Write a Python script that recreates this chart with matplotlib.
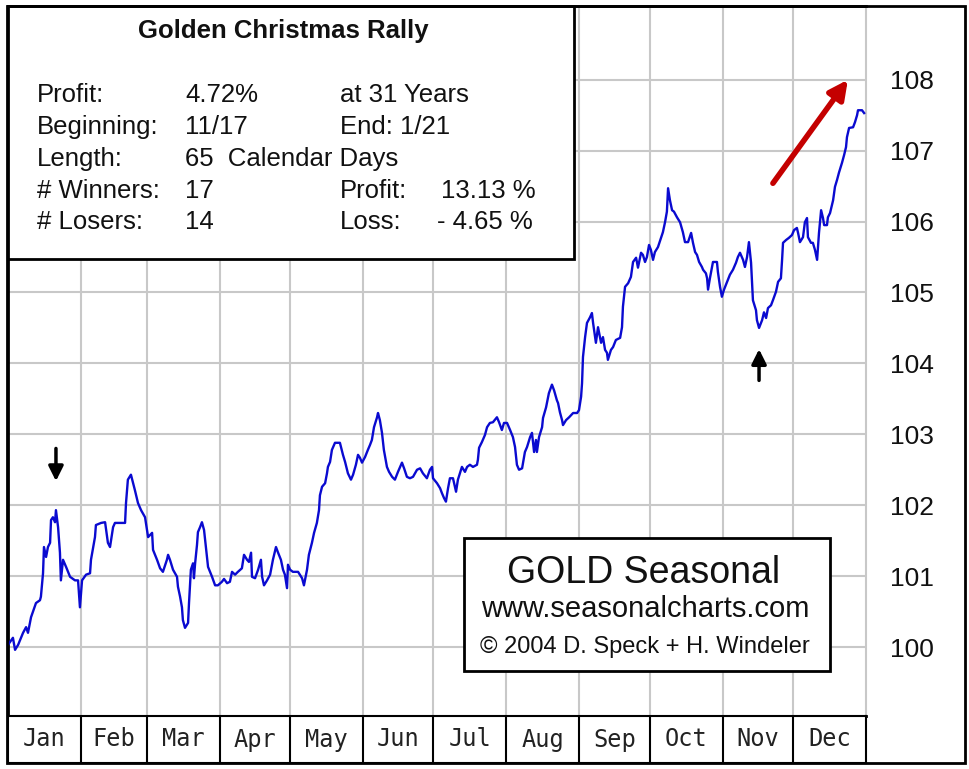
import numpy as np
import matplotlib.pyplot as plt
from matplotlib.patches import Rectangle

W, H = 970, 769

months = ['Jan', 'Feb', 'Mar', 'Apr', 'May', 'Jun', 'Jul', 'Aug', 'Sep', 'Oct', 'Nov', 'Dec']
month_days = [31, 28, 31, 30, 31, 30, 31, 31, 30, 31, 30, 31]
yticks = [100, 101, 102, 103, 104, 105, 106, 107, 108]

# seasonal pattern, day of year vs index
day = [0, 2.1, 3.0, 4.3, 6.4, 7.7, 8.5, 9.8, 11.9, 13.6, 14.0, 14.9, 15.3, 16.2, 17.0, 17.9, 18.3, 19.1,
       20.0, 20.4, 21.3, 22.1, 22.5, 23.4, 24.7, 26.4, 28.5, 29.8, 30.6, 31.5, 33.2, 34.9, 35.3, 37.0, 37.4,
       39.6, 41.3, 42.5, 43.4, 44.7, 45.5, 49.8, 50.2, 51.0, 52.3, 54.0, 55.3, 56.6, 58.3,
       59.6, 61.3, 61.7, 63.4, 64.7, 65.9, 67.6, 68.1, 68.9, 70.2, 71.9, 72.3, 73.2, 74.0, 74.4, 75.3,
       76.6, 77.0, 77.8, 78.7, 79.1, 79.6, 80.4, 80.8, 81.7, 82.5, 83.4, 84.2, 85.1, 86.8, 88.1, 89.3,
       91.0, 91.9, 93.2, 94.4, 95.3, 96.6, 97.8, 99.5, 100.4, 101.7, 102.5, 103.4, 103.8, 105.1, 106.4,
       107.6, 108.1, 108.9, 110.2, 111.5, 112.7, 114.0, 114.9, 116.1, 117.0, 117.8, 118.7, 119.1, 120.0,
       121.2, 123.4, 125.1, 125.9,
       127.2, 128.0, 129.3, 130.2, 131.4, 132.3, 132.7, 133.6, 134.9, 135.7, 136.1, 137.0, 137.8, 139.1,
       141.2, 142.5, 143.4, 144.6, 145.9, 146.8, 148.0, 148.9, 149.7, 150.6, 151.9, 153.1, 154.0, 154.8,
       155.7, 157.0, 157.4, 158.2, 159.1, 159.9, 161.2, 162.1, 163.4, 164.6, 165.9, 167.6, 168.5, 169.7,
       171.0, 172.3, 174.0, 175.3, 176.5, 178.2, 179.5, 180.4, 180.8, 182.5, 183.8, 184.6, 185.5,
       186.3, 187.2, 188.0, 189.3, 190.6, 191.4, 193.1, 194.4, 195.3, 196.5, 197.8, 199.5, 199.9, 200.4,
       201.6, 202.9, 203.8, 205.0, 206.3, 208.0, 208.9, 210.1, 211.0, 212.3, 213.6, 214.8, 215.7, 216.5,
       217.4, 218.7, 219.9, 220.8, 222.1, 222.9, 223.8, 224.6, 225.0, 225.9, 227.2, 227.6, 228.9, 230.1,
       231.4, 232.3, 233.5, 234.0, 234.8, 235.7, 236.1, 237.4, 238.7, 240.4, 242.1, 242.9, 243.8, 244.2,
       244.6, 245.5, 246.3, 247.6, 248.4, 248.9, 250.1, 251.0, 252.3, 253.1, 254.0, 254.8, 255.2, 256.5,
       257.4, 258.6, 260.4, 261.2, 261.6, 262.5, 263.8, 265.0, 265.9, 267.2, 268.0, 269.3, 270.1, 271.0,
       271.8, 272.7, 273.5, 274.4, 275.2, 276.5, 277.8, 278.6, 279.5, 280.3, 280.8, 281.6, 282.5, 283.3,
       284.6, 285.9, 287.1, 288.0, 289.3, 290.6, 291.4, 292.3, 293.1, 294.0, 295.2, 295.7, 296.9, 297.4,
       297.8, 298.6, 299.5, 299.9, 301.6, 302.0, 302.9, 303.7, 304.6, 305.9, 307.1, 308.4, 309.7, 310.5,
       311.4, 312.7, 313.5, 314.4, 315.2, 316.1, 316.5, 316.9, 318.2, 318.6, 319.5, 320.8, 321.6, 322.5,
       323.3, 324.6, 325.4, 326.7, 327.6, 328.8, 329.3, 329.7, 331.0, 332.2, 333.5, 334.4, 335.6, 336.1,
       336.9, 338.2, 339.0, 339.9, 340.3, 341.6, 342.4, 343.3, 344.2, 345.0, 345.9, 346.7, 347.2, 348.4,
       348.8, 349.7, 351.0, 351.8, 352.7, 353.5, 354.8, 355.7, 356.5, 356.9, 357.8, 359.5, 360.3, 361.2,
       361.6, 363.3, 364.2]
gold = [100.03, 100.13, 99.96, 100.03, 100.20, 100.28, 100.20, 100.42, 100.62, 100.66, 100.71, 101.04, 101.41,
        101.27, 101.41, 101.47, 101.79, 101.83, 101.76, 101.93, 101.69, 101.33, 100.94, 101.23, 101.13, 100.99,
        100.94, 100.94, 100.56, 100.94, 101.02, 101.04, 101.23, 101.55, 101.72, 101.75, 101.76, 101.47, 101.41,
        101.69, 101.75, 101.75, 102.03, 102.36, 102.43, 102.21, 102.03, 101.93, 101.83,
        101.55, 101.61, 101.37, 101.23, 101.11, 101.06, 101.23, 101.30, 101.23, 101.09, 100.99, 100.85, 100.71,
        100.56, 100.38, 100.27, 100.34, 100.62, 101.09, 101.18, 100.97, 101.18, 101.44, 101.62, 101.69, 101.76,
        101.65, 101.41, 101.13, 100.99, 100.87, 100.87, 100.92, 100.96, 100.90, 100.92, 101.06, 101.02, 101.06,
        101.11, 101.30, 101.23, 101.20, 101.33, 100.99, 100.97, 101.09, 101.23, 100.99, 100.87, 100.94, 101.02,
        101.23, 101.41, 101.33, 101.23, 101.09, 101.02, 100.83, 101.16, 101.09, 101.06, 101.06, 100.97, 100.87,
        101.09, 101.30, 101.47, 101.61, 101.75, 101.93, 102.14, 102.26, 102.31, 102.45, 102.54, 102.61, 102.78,
        102.88, 102.88, 102.71, 102.61, 102.45, 102.36, 102.43, 102.57, 102.71, 102.67, 102.60, 102.68, 102.78,
        102.85, 102.92, 103.10, 103.24, 103.30, 103.20, 103.02, 102.78, 102.54, 102.47, 102.40, 102.36, 102.47,
        102.60, 102.52, 102.40, 102.38, 102.40, 102.50, 102.52, 102.45, 102.38, 102.50, 102.54, 102.38, 102.31,
        102.24, 102.17, 102.10,
        102.05, 102.24, 102.38, 102.38, 102.19, 102.36, 102.54, 102.47, 102.54, 102.57, 102.54, 102.57, 102.64,
        102.81, 102.89, 102.99, 103.10, 103.16, 103.17, 103.24, 103.17, 103.06, 103.16, 103.16, 103.06, 102.96,
        102.82, 102.57, 102.50, 102.52, 102.75, 102.82, 102.96, 103.02, 102.75, 102.92, 102.75, 102.96, 103.10,
        103.23, 103.38, 103.58, 103.70, 103.62, 103.48, 103.44, 103.31, 103.20, 103.13, 103.20, 103.24, 103.30,
        103.30, 103.34, 103.53, 103.72,
        104.09, 104.37, 104.57, 104.65, 104.71, 104.57, 104.29, 104.51, 104.29, 104.37, 104.19, 104.15, 104.05,
        104.19, 104.23, 104.33, 104.36, 104.51, 104.80, 105.08, 105.13, 105.22, 105.43, 105.49, 105.35, 105.56,
        105.53, 105.43, 105.50, 105.67, 105.60, 105.46, 105.57, 105.64, 105.77, 105.85, 105.99, 106.14, 106.47,
        106.30, 106.16, 106.14, 106.06, 105.99, 105.85, 105.71, 105.71, 105.84, 105.70, 105.57, 105.53, 105.43,
        105.36, 105.32, 105.27, 105.20, 105.04, 105.20, 105.36, 105.43, 105.43, 105.29, 105.08, 104.94, 105.04,
        105.15, 105.25, 105.32, 105.42, 105.50, 105.56, 105.46, 105.36, 105.50, 105.71, 105.42, 105.15, 104.89,
        104.75, 104.61, 104.50, 104.61, 104.72, 104.64, 104.78, 104.82, 104.89, 105.01, 105.15, 105.20, 105.46,
        105.70, 105.74, 105.77, 105.81, 105.88, 105.91, 105.84, 105.71, 105.78, 105.99, 106.05, 105.78, 105.70,
        105.70, 105.60, 105.46, 105.84, 106.16, 106.05, 105.95, 105.95, 106.06, 106.12, 106.30, 106.49, 106.59,
        106.69, 106.83, 106.94, 107.05, 107.19, 107.32, 107.33, 107.40, 107.50, 107.57, 107.57, 107.53]

rally_rows = [('Profit:', '4.72%', 'at 31 Years', ''),
              ('Beginning:', '11/17', 'End: 1/21', ''),
              ('Length:', '65  Calendar Days', '', ''),
              ('# Winners:', '17', 'Profit:', '13.13 %'),
              ('# Losers:', '14', 'Loss:', '- 4.65 %')]

GRID = '#c8c8c8'
INK = '#111111'
SANS = 'Liberation Sans'

fig = plt.figure(figsize=(9.7, 7.69), dpi=100, facecolor='white')

def fx(px):
    return px / W

def fy(py):
    return 1 - py / H

ax = fig.add_axes([fx(8), fy(716), fx(866) - fx(8), fy(6) - fy(716)])
edges = np.cumsum(month_days)
for e in edges[:-1]:
    ax.axvline(e, color=GRID, lw=1.5, zorder=1)
for v in yticks:
    ax.axhline(v, color=GRID, lw=1.5, zorder=1)
ax.plot(day, gold, color='#0a0ad0', lw=1.7, zorder=3)
ax.set_xlim(0, 365)
ax.set_ylim(99.027, 109.04)
ax.set_xticks([])
ax.yaxis.tick_right()
ax.set_yticks(yticks)
ax.tick_params(axis='y', length=0, pad=17, labelsize=19, labelcolor=INK)
for lab in ax.get_yticklabels():
    lab.set_family(SANS)
for s in ['left', 'top', 'bottom']:
    ax.spines[s].set_color('black')
    ax.spines[s].set_linewidth(2)
ax.spines['right'].set_color(GRID)
ax.spines['right'].set_linewidth(1.5)

# arrows
ax.annotate('', xy=(20.4, 102.34), xytext=(20.4, 102.80),
            arrowprops=dict(arrowstyle='-|>', color='black', lw=2.5, mutation_scale=22,
                            shrinkA=0, shrinkB=0), zorder=4)
ax.annotate('', xy=(319.5, 104.20), xytext=(319.5, 103.76),
            arrowprops=dict(arrowstyle='-|>', color='black', lw=2.5, mutation_scale=22,
                            shrinkA=0, shrinkB=0), zorder=4)
ax.annotate('', xy=(357.3, 108.0), xytext=(325.4, 106.54),
            arrowprops=dict(arrowstyle='-|>', color='#c40000', lw=4, mutation_scale=28,
                            shrinkA=0, shrinkB=0), zorder=4)

# month row
mx = fig.add_axes([fx(8), fy(763), fx(866) - fx(8), fy(716) - fy(763)])
mx.set_xlim(0, 365)
mx.set_ylim(0, 1)
for e in edges[:-1]:
    mx.axvline(e, color='black', lw=1.5)
centers = edges - np.array(month_days) / 2
for c, m in zip(centers, months):
    mx.text(c, 0.5, m, ha='center', va='center', family='DejaVu Sans Mono', fontsize=17, color='#222222')
mx.set_xticks([])
mx.set_yticks([])
for s in mx.spines.values():
    s.set_color('black')
    s.set_linewidth(1.5)

# outer frame
fig.add_artist(Rectangle((fx(7), fy(763)), fx(965) - fx(7), fy(6) - fy(763), fill=False,
                         ec='black', lw=2, transform=fig.transFigure, zorder=10))

# rally info box
fig.add_artist(Rectangle((fx(8), fy(259)), fx(574) - fx(8), fy(6) - fy(259), fc='white',
                         ec='black', lw=2, transform=fig.transFigure, zorder=5))
fig.text(fx(283), fy(31), 'Golden Christmas Rally', ha='center', va='center', fontsize=18.5,
         weight='bold', family=SANS, color=INK, zorder=6)
row_y = [95, 127, 159, 191, 222]
col_x = [37, 185, 340, 441]
for ry, row in zip(row_y, rally_rows):
    for cx, txt in zip(col_x, row):
        if txt:
            fig.text(fx(cx if txt != '- 4.65 %' else 437), fy(ry), txt, ha='left', va='center',
                     fontsize=18.5, family=SANS, color=INK, zorder=6)

# GOLD Seasonal box
fig.add_artist(Rectangle((fx(464), fy(671)), fx(830) - fx(464), fy(538) - fy(671), fc='white',
                         ec='black', lw=2, transform=fig.transFigure, zorder=5))
fig.text(fx(644), fy(573), 'GOLD Seasonal', ha='center', va='center', fontsize=27,
         family=SANS, color=INK, zorder=6)
fig.text(fx(645), fy(609), 'www.seasonalcharts.com', ha='center', va='center', fontsize=21,
         family=SANS, color=INK, zorder=6)
fig.text(fx(645), fy(647), '\u00a9 2004 D. Speck + H. Windeler', ha='center', va='center', fontsize=17,
         family=SANS, color=INK, zorder=6)

fig.savefig('out.png', dpi=100, facecolor='white')
